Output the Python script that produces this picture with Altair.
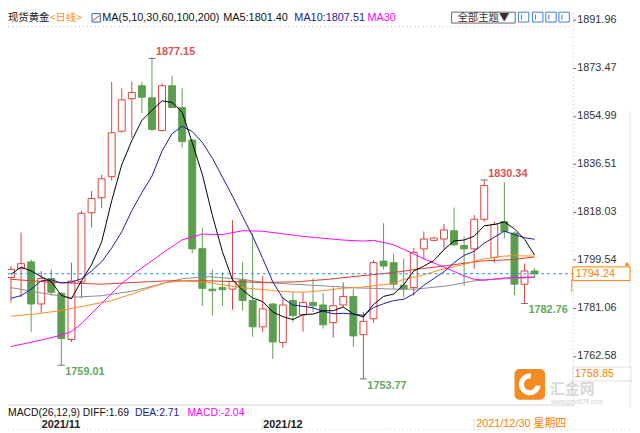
import altair as alt
import pandas as pd

# ---------------- data ----------------
opens = [1792.8, 1796.2, 1798.8, 1782.6, 1792.4, 1786.7, 1768.9, 1791.1, 1817.7, 1823.5,
         1831.6, 1849.1, 1861.6, 1866.6, 1862.0, 1849.4, 1866.6, 1858.2, 1845.7, 1803.9,
         1788.3, 1788.9, 1788.3, 1791.8, 1783.9, 1773.8, 1782.6, 1767.8, 1783.9, 1778.4,
         1783.2, 1782.2, 1775.4, 1782.2, 1785.5, 1770.8, 1776.9, 1799.1, 1798.5, 1789.8,
         1788.9, 1803.8, 1807.1, 1807.6, 1810.8, 1805.1, 1803.8, 1815.2, 1800.5, 1814.3,
         1809.9, 1790.2, 1795.3]
highs = [1797.2, 1810.1, 1799.7, 1795.3, 1795.9, 1787.1, 1798.5, 1818.5, 1826.1, 1832.3,
         1868.1, 1865.6, 1868.1, 1868.1, 1877.15, 1867.5, 1870.4, 1865.6, 1846.0, 1811.7,
         1795.9, 1794.7, 1814.9, 1798.8, 1809.9, 1793.4, 1783.0, 1785.2, 1787.1, 1787.1,
         1792.4, 1786.8, 1788.9, 1790.9, 1788.3, 1779.5, 1799.5, 1813.7, 1802.0, 1800.0,
         1804.2, 1810.5, 1808.3, 1813.4, 1819.7, 1808.6, 1816.8, 1830.34, 1814.3, 1829.5,
         1810.5, 1798.2, 1796.5]
lows = [1783.2, 1785.2, 1771.9, 1779.2, 1785.8, 1759.01, 1768.0, 1784.8, 1812.1, 1819.4,
        1830.1, 1848.5, 1846.6, 1856.1, 1849.1, 1849.0, 1858.0, 1842.8, 1802.0, 1781.9,
        1778.2, 1781.9, 1780.4, 1780.1, 1769.9, 1771.9, 1761.4, 1765.8, 1775.6, 1771.9,
        1779.5, 1773.1, 1769.6, 1781.4, 1766.1, 1753.77, 1775.4, 1795.9, 1788.3, 1785.2,
        1785.8, 1799.7, 1806.7, 1803.5, 1804.8, 1789.6, 1796.2, 1814.3, 1798.5, 1807.9,
        1786.0, 1782.76, 1792.6]
closes = [1795.9, 1798.1, 1782.6, 1792.4, 1787.1, 1769.3, 1791.4, 1817.5, 1823.2, 1830.8,
          1848.5, 1861.2, 1864.0, 1862.2, 1849.8, 1866.6, 1858.2, 1845.1, 1803.8, 1788.6,
          1787.7, 1788.1, 1791.2, 1783.9, 1773.8, 1780.7, 1768.0, 1782.2, 1778.2, 1783.2,
          1781.9, 1774.6, 1781.9, 1785.5, 1770.3, 1775.9, 1798.5, 1797.2, 1790.2, 1788.3,
          1802.5, 1807.6, 1808.0, 1811.1, 1805.4, 1803.8, 1815.2, 1828.2, 1813.2, 1810.5,
          1790.2, 1795.3, 1794.24]

ma5 = [1794.0, 1796.8, 1795.3, 1793.1, 1791.2, 1785.9, 1784.6, 1791.5, 1797.7, 1806.4,
       1822.3, 1836.2, 1845.5, 1853.3, 1857.1, 1860.8, 1860.2, 1856.4, 1844.7, 1832.5,
       1816.7, 1802.7, 1791.9, 1787.9, 1784.9, 1783.5, 1779.5, 1777.7, 1776.6, 1778.5,
       1778.7, 1780.0, 1780.0, 1781.4, 1778.8, 1777.6, 1782.4, 1785.5, 1786.4, 1790.0,
       1795.3, 1797.2, 1799.3, 1803.5, 1806.9, 1807.2, 1808.7, 1812.7, 1813.2, 1814.2,
       1811.5, 1807.5, 1801.4]
ma10 = [1784.8, 1785.8, 1788.3, 1791.5, 1791.9, 1790.7, 1791.0, 1792.3, 1795.3, 1798.8,
        1804.1, 1810.4, 1818.5, 1825.5, 1831.8, 1841.5, 1848.2, 1851.0, 1849.0, 1844.8,
        1838.7, 1831.4, 1824.1, 1816.3, 1808.7, 1800.1, 1791.1, 1784.8, 1782.2, 1781.7,
        1781.1, 1779.8, 1778.8, 1779.0, 1778.7, 1778.2, 1781.2, 1782.7, 1783.9, 1784.4,
        1786.5, 1789.8, 1792.4, 1795.0, 1798.5, 1801.3, 1802.9, 1806.0, 1808.3, 1810.6,
        1809.3, 1808.1, 1807.51]

ma30_idx = [0, 3, 5, 6, 7, 9, 11, 13, 15, 17, 19, 21, 23, 25, 27, 29, 31, 33, 35, 36,
            38, 39, 41, 43, 45, 46, 47, 49, 52]
ma30_val = [1766.2, 1768.7, 1770.6, 1772.0, 1775.0, 1782.8, 1790.5, 1796.5, 1802.0, 1807.3,
            1809.5, 1809.3, 1810.8, 1810.6, 1809.6, 1808.6, 1807.9, 1807.2, 1806.8, 1807.1,
            1805.4, 1803.6, 1800.0, 1796.8, 1793.4, 1792.1, 1791.8, 1792.6, 1793.0]

ma60_idx = [0, 2.6, 5, 7.4, 10, 12.3, 13.9, 15.5, 17.1, 19.7, 20.6, 22.9, 25.1, 27, 29,
            30.9, 32.8, 34.7, 36, 38, 38.9, 40.8, 42.8, 45, 46.6, 48.6, 49.8, 52]
ma60_val = [1777.9, 1778.8, 1780.1, 1781.9, 1783.9, 1786.8, 1789.0, 1790.9, 1791.5, 1790.9,
            1790.2, 1788.9, 1788.1, 1787.4, 1787.1, 1787.7, 1788.6, 1789.0, 1789.6, 1790.5,
            1791.9, 1793.6, 1795.9, 1797.8, 1799.7, 1800.9, 1801.2, 1801.0]

ma100_idx = [0, 4.2, 9, 12.3, 15.5, 19.7, 22.9, 25.1, 28.3, 31.5, 34.7, 38, 40.2, 43.4,
             46.6, 49.8, 52]
ma100_val = [1792.1, 1790.9, 1790.2, 1790.9, 1791.5, 1791.5, 1791.1, 1790.9, 1791.1, 1792.1,
             1793.4, 1794.7, 1795.9, 1797.4, 1799.1, 1799.7, 1800.7]

ma200_idx = [0, 2.6, 5.8, 9.1, 12.3, 15.5, 17.1, 19.7, 20.6, 22.9, 25.1, 28, 29.9, 32.2,
             34.1, 36, 38, 40.2, 43.4, 46, 48.2, 52]
ma200_val = [1788.9, 1787.1, 1785.1, 1785.8, 1787.7, 1790.9, 1792.4, 1793.1, 1792.8, 1792.1,
             1790.9, 1790.2, 1789.8, 1789.3, 1788.8, 1788.6, 1788.3, 1788.3, 1789.6, 1791.5,
             1792.1, 1792.8]

y_ticks = [1891.96, 1873.47, 1854.99, 1836.51, 1818.03, 1799.54, 1781.06, 1762.58]
month_pos = [3, 25]
month_labels = ["2021/11", "2021/12"]
cursor_pos = 46
cursor_label = "2021/12/30 星期四"
last_price = 1794.24
hi_idx = [14, 47]
hi_val = [1877.15, 1830.34]
lo_idx = [5, 35, 51]
lo_val = [1759.01, 1753.77, 1782.76]

# ---------------- styling ----------------
W, H = 572, 399
RED = "#e0403c"
GREEN = "#5c9e4f"
BLUE = "#1a1aa0"
MAG = "#ff00ff"
ORANGE = "#ff8000"
LAT = "Liberation Sans"
CJK = "Noto Sans CJK SC"

xs = alt.Scale(domain=[0.193, 55.30], nice=False, zero=False)
ys = alt.Scale(domain=[1743.84, 1895.50], nice=False, zero=False)

label_expr = " : ".join(
    f"datum.value == {p} ? '{t}'" for p, t in zip(month_pos, month_labels)
) + " : ''"

xaxis = alt.Axis(values=month_pos, labelExpr=label_expr, orient="bottom", title=None,
                 ticks=False, tickSize=0, domain=True, domainColor="#d4d4d4",
                 labelAlign="left", labelBaseline="middle", labelPadding=20,
                 labelFont=LAT, labelFontSize=11, labelFontWeight="bold",
                 labelColor="#222222", labelFlush=False, labelOverlap=False, grid=False)
yaxis = alt.Axis(orient="right", values=y_ticks, format=".2f", title=None,
                 tickSize=3, tickColor="#666666", domainColor="#9fb2c6", domainDash=[1, 3],
                 labelPadding=1, labelFont=LAT, labelFontSize=11, labelColor="#333333",
                 labelFlush=False, labelOverlap=False, grid=False)

df = pd.DataFrame({"i": list(range(len(closes))), "o": opens, "h": highs, "l": lows, "c": closes})
df["top"] = df[["o", "c"]].max(axis=1)
df["bot"] = df[["o", "c"]].min(axis=1)
is_up = alt.datum.c >= alt.datum.o

X = lambda f: alt.X(f, type="quantitative", scale=xs, axis=xaxis)
Y = lambda f: alt.Y(f, type="quantitative", scale=ys, axis=yaxis)

layers = []

# top dotted line, bottom dotted line, right edge line
layers.append(alt.Chart(pd.DataFrame({"a": [0]})).mark_rule(color="#a9b8c8", strokeDash=[1, 3]).encode(
    x=alt.value(0), x2=alt.value(W), y=alt.value(16)))
layers.append(alt.Chart(pd.DataFrame({"a": [0]})).mark_rule(color="#c8d0d8", strokeDash=[1, 3]).encode(
    x=alt.value(0), x2=alt.value(630), y=alt.value(424)))
layers.append(alt.Chart(pd.DataFrame({"a": [0]})).mark_rule(color="#dfe6ee").encode(
    x=alt.value(630), y=alt.value(102), y2=alt.value(402)))

# wicks
wicks = alt.Chart(df).mark_rule(strokeWidth=1, clip=True).encode(
    x=X("i"), y=Y("l"), y2="h:Q",
    color=alt.condition(is_up, alt.value(RED), alt.value(GREEN)),
)
layers.append(wicks)

bodies = alt.Chart(df).mark_bar(size=7, strokeWidth=1, clip=True).encode(
    x=X("i"), y=Y("bot"), y2="top:Q",
    fill=alt.condition(is_up, alt.value("white"), alt.value(GREEN)),
    stroke=alt.condition(is_up, alt.value(RED), alt.value(GREEN)),
)
layers.append(bodies)

# moving averages
def ma_line(idx, vals, color):
    d = pd.DataFrame({"i": idx, "v": vals})
    return alt.Chart(d).mark_line(color=color, strokeWidth=1, clip=True).encode(x=X("i"), y=Y("v"))

layers.append(ma_line(ma200_idx, ma200_val, "#8a8a8a"))
layers.append(ma_line(ma100_idx, ma100_val, "#e03a2a"))
layers.append(ma_line(ma60_idx, ma60_val, "#ff8a1a"))
layers.append(ma_line(ma30_idx, ma30_val, MAG))
layers.append(ma_line(list(range(len(ma10))), ma10, BLUE))
layers.append(ma_line(list(range(len(ma5))), ma5, "#000000"))

# current price dashed line
pdf = pd.DataFrame({"p": [last_price]})
layers.append(alt.Chart(pdf).mark_rule(color="#1e88ff", strokeDash=[3, 3], strokeWidth=1).encode(
    y=Y("p"), x=alt.value(0), x2=alt.value(W)))

# extreme markers and labels
hdf = pd.DataFrame({"i": hi_idx, "v": hi_val})
ldf = pd.DataFrame({"i": lo_idx, "v": lo_val})
for d in (hdf, ldf):
    layers.append(alt.Chart(d).mark_tick(orient="horizontal", size=7, thickness=1, color="#333333").encode(
        x=X("i"), y=Y("v")))
layers.append(alt.Chart(hdf).mark_text(align="left", baseline="middle", dx=4, dy=-6, font=LAT,
                                       fontSize=11, fontWeight="bold", color="#d9534f").encode(
    x=X("i"), y=Y("v"), text=alt.Text("v:Q", format=".2f")))
layers.append(alt.Chart(ldf).mark_text(align="left", baseline="middle", dx=4, dy=7, font=LAT,
                                       fontSize=11, fontWeight="bold", color="#64a85a").encode(
    x=X("i"), y=Y("v"), text=alt.Text("v:Q", format=".2f")))

# price box on the right axis
box_shape = "M-1,-0.24H1V0.24H-1Z"
layers.append(alt.Chart(pdf).mark_point(shape=box_shape, size=3364, filled=True, fill="white",
                                        stroke=ORANGE, strokeWidth=1, opacity=1).encode(
    y=Y("p"), x=alt.value(601)))
layers.append(alt.Chart(pdf).mark_text(align="left", baseline="middle", font=LAT, fontSize=11,
                                       color=ORANGE).encode(
    y=Y("p"), x=alt.value(575), text=alt.Text("p:Q", format=".2f")))
layers.append(alt.Chart(pdf).mark_point(shape="triangle-up", size=22, filled=True, color=ORANGE,
                                        opacity=1).encode(
    y=Y("p"), x=alt.value(627), yOffset=alt.value(-10)))
layers.append(alt.Chart(pdf).mark_rule(color=ORANGE).encode(
    x=alt.value(571), y=alt.value(272), y2=alt.value(285)))

# watermark logo
layers.append(alt.Chart(pd.DataFrame({"a": [0]})).mark_rect(cornerRadius=5, color="#f38a22").encode(
    x=alt.value(513), x2=alt.value(544), y=alt.value(363), y2=alt.value(394)))
layers.append(alt.Chart(pd.DataFrame({"a": [0]})).mark_arc(
    x=528.5, y=378.5, radius=11, radius2=6, theta=1.7, theta2=6.4).encode(color=alt.value("white")))

def txt(s, x, y, color="#111111", size=11, font=LAT, weight="normal", align="left"):
    return alt.Chart(pd.DataFrame({"t": [s]})).mark_text(
        align=align, baseline="middle", font=font, fontSize=size, fontWeight=weight,
        color=color).encode(x=alt.value(x), y=alt.value(y), text="t:N")

layers.append(txt("汇金网", 549, 383, color="#d9d9d9", size=15, font=CJK, weight="bold"))
layers.append(txt("www.gold678.com", 550, 396, color="#d0d0d0", size=6.5))
layers.append(alt.Chart(pd.DataFrame({"a": [0]})).mark_rect(fill="white", fillOpacity=0.0,
                                                             stroke="#e2e2e2").encode(
    x=alt.value(572), x2=alt.value(632), y=alt.value(361), y2=alt.value(375)))
layers.append(txt("1758.85", 574, 368, color=ORANGE, size=11))

# top legend row
TY = 7
layers.append(txt("现货黄金", 0, TY, size=10.5, font=CJK))
layers.append(txt("<日线>", 42.3, TY, color="#ff8c1a", size=10.5, font=CJK))
layers.append(alt.Chart(pd.DataFrame({"a": [0]})).mark_rect(fill="white", stroke="#3060c0").encode(
    x=alt.value(85), x2=alt.value(93.5), y=alt.value(3), y2=alt.value(11.5)))
layers.append(alt.Chart(pd.DataFrame({"a": [0]})).mark_rule(color="#d03030").encode(
    x=alt.value(86), x2=alt.value(92.5), y=alt.value(10), y2=alt.value(5)))
layers.append(txt("MA(5,10,30,60,100,200)", 95.5, TY))
layers.append(txt("MA5:1801.40", 218, TY))
layers.append(txt("MA10:1807.51", 290, TY, color=BLUE))
layers.append(txt("MA30", 364, TY, color=MAG))

# top-right buttons
layers.append(alt.Chart(pd.DataFrame({"a": [0]})).mark_rect(fill="white", stroke="#666666").encode(
    x=alt.value(449.3), x2=alt.value(513.7), y=alt.value(1.5), y2=alt.value(12.5)))
layers.append(txt("全部主题▼", 481.5, 7, color="#333333", size=10.5, font=CJK, align="center"))
for bx in [517, 531.3, 544.7, 558]:
    layers.append(alt.Chart(pd.DataFrame({"a": [0]})).mark_rect(fill="white", stroke="#3b7dd8").encode(
        x=alt.value(bx), x2=alt.value(bx + 10.5), y=alt.value(1.5), y2=alt.value(11.5)))
    layers.append(alt.Chart(pd.DataFrame({"a": [0]})).mark_rule(color="#3b7dd8").encode(
        x=alt.value(bx + 3), y=alt.value(4), y2=alt.value(9)))

# MACD row
layers.append(txt("MACD(26,12,9) DIFF:1.69", 0, 407, size=10.5))
layers.append(txt("DEA:2.71", 128.6, 407, color=BLUE, size=10.5))
layers.append(txt("MACD:-2.04", 181.7, 407, color=MAG, size=10.5))

# month separators and cursor date
sep = pd.DataFrame({"i": month_pos + [cursor_pos]})
layers.append(alt.Chart(sep).mark_rule(color="#d8d8d8").encode(
    x=X("i"), y=alt.value(413), y2=alt.value(425)))
layers.append(alt.Chart(pd.DataFrame({"i": [cursor_pos], "t": [cursor_label]})).mark_text(
    align="left", baseline="middle", dx=2, font=LAT + ", " + CJK, fontSize=11, color=ORANGE).encode(
    x=X("i"), y=alt.value(419), text="t:N"))

chart = alt.layer(*layers).properties(
    width=W, height=H,
    padding={"left": 0, "top": 0, "right": 60, "bottom": 26},
    autosize=alt.AutoSizeParams(type="none"),
    background="white",
).configure_view(stroke=None)

chart.save("out.html", embed_options={"renderer": "svg", "actions": False})
